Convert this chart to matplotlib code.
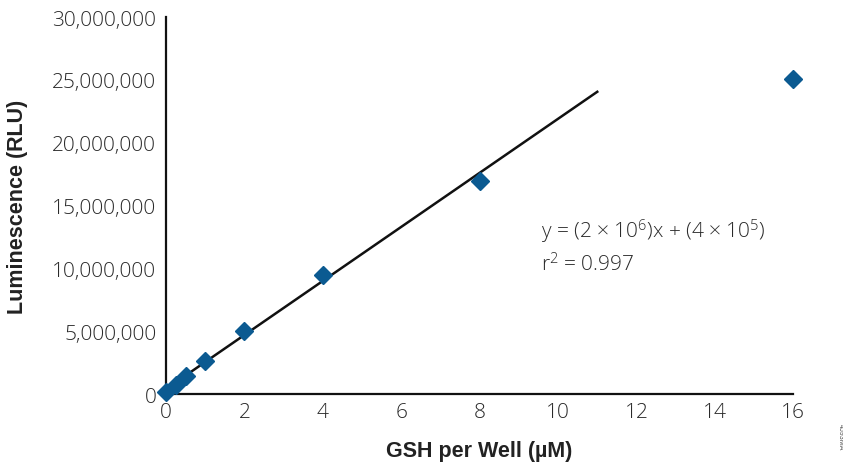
import matplotlib
matplotlib.use("Agg")
import matplotlib.pyplot as plt
from matplotlib.ticker import FuncFormatter
import numpy as np

# Data
gsh_um = [0, 0.25, 0.5, 1, 2, 4, 8, 16]
rlu = [150000, 700000, 1400000, 2600000, 5000000, 9500000, 16950000, 25100000]
fit_slope = 2.15e6
fit_intercept = 4.0e5
fit_x = [0.125, 11]
xticks = [0, 2, 4, 6, 8, 10, 12, 14, 16]
yticks = [0, 5e6, 10e6, 15e6, 20e6, 25e6, 30e6]

LIGHT = "Open Sans"
plt.rcParams["mathtext.fontset"] = "custom"
plt.rcParams["mathtext.rm"] = LIGHT + ":light"
plt.rcParams["mathtext.it"] = LIGHT + ":light"
plt.rcParams["mathtext.bf"] = "Liberation Sans:bold"
plt.rcParams["font.family"] = ["Liberation Sans", "DejaVu Sans"]

fig = plt.figure(figsize=(8.43, 4.64), dpi=100)
ax = fig.add_axes([0.197, 0.1487, 0.744, 0.8125])

fx = np.array(fit_x)
ax.plot(fx, fit_slope * fx + fit_intercept, color="#111111", lw=1.8, zorder=2)
ax.plot(gsh_um, rlu, linestyle="none", marker="D", markersize=9.5,
        color="#0b5a91", zorder=3)

ax.set_xlim(0, 16)
ax.set_ylim(0, 30e6)
ax.set_xticks(xticks)
ax.set_yticks(yticks)
ax.yaxis.set_major_formatter(FuncFormatter(lambda v, p: f"{int(v):,}"))
ax.tick_params(length=0, labelsize=15, colors="#2a2a2a")
ax.tick_params(axis="y", pad=7)
ax.tick_params(axis="x", pad=6)
for lab in ax.get_xticklabels() + ax.get_yticklabels():
    lab.set_fontfamily(LIGHT)
    lab.set_fontweight("light")

for s in ["top", "right"]:
    ax.spines[s].set_visible(False)
for s in ["left", "bottom"]:
    ax.spines[s].set_linewidth(1.6)
    ax.spines[s].set_color("#111111")
for l in ax.lines:
    l.set_clip_on(False)

ax.set_xlabel("GSH per Well (µM)", fontsize=15.5, fontweight="bold",
              color="#222222", labelpad=13)
ax.set_ylabel("Luminescence (RLU)", fontsize=15.5, fontweight="bold",
              color="#222222", labelpad=17)

ax.text(0.598, 0.432, r"y = (2 × 10$^{6}$)x + (4 × 10$^{5}$)",
        transform=ax.transAxes, fontsize=15, color="#2a2a2a", va="center",
        family=LIGHT, fontweight="light")
ax.text(0.598, 0.345, r"r$^{2}$ = 0.997",
        transform=ax.transAxes, fontsize=15, color="#2a2a2a", va="center",
        family=LIGHT, fontweight="light")

fig.text(0.997, 0.03, "4593MA", rotation=270, fontsize=5, color="#555555",
         ha="center", va="bottom")

fig.savefig("out.png", dpi=100)
